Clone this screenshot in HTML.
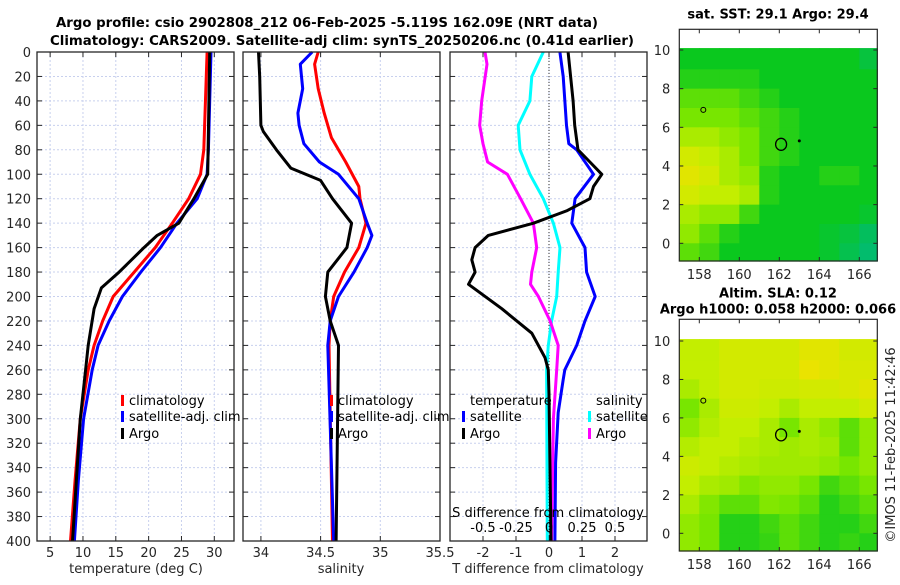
<!DOCTYPE html>
<html><head><meta charset="utf-8"><style>
body{margin:0;background:#fff;}
svg text{font-family:"DejaVu Sans","Liberation Sans",sans-serif;}
</style></head><body>
<svg id="chart" width="900" height="580" viewBox="0 0 900 580" xmlns="http://www.w3.org/2000/svg"></svg>
<script>
// ---- data ----
const depthsT = [0,80,100,120,140,160,180,200,220,240,260,300,350,400];
const tempClim = [28.9,28.4,27.9,26.1,23.6,21.0,17.8,14.6,13.0,11.7,10.8,9.6,8.8,8.1];
const tempSat = [29.5,29.1,28.9,27.4,24.3,21.8,18.8,16.0,14.0,12.3,11.4,10.1,9.3,8.7];
const depthsArgoT = [0,100,120,140,150,160,180,193,210,240,260,300,350,400];
const tempArgo = [29.3,29.0,26.9,24.6,21.3,19.3,15.5,12.8,11.7,10.8,10.4,9.6,9.0,8.4];

const depthsS = [0,10,30,50,70,90,110,120,140,160,180,200,220,240,400];
const salClim = [34.48,34.45,34.48,34.53,34.59,34.71,34.82,34.83,34.88,34.82,34.70,34.61,34.58,34.57,34.60];
const depthsSatS = [0,10,30,50,60,75,90,100,120,140,150,160,180,200,220,240,400];
const salSat = [34.43,34.33,34.35,34.31,34.32,34.36,34.49,34.65,34.82,34.89,34.93,34.89,34.78,34.65,34.58,34.56,34.61];
const depthsArgoS = [0,20,60,65,80,95,105,120,140,160,180,200,220,240,400];
const salArgo = [33.98,33.99,34.0,34.02,34.13,34.25,34.5,34.6,34.76,34.72,34.56,34.54,34.58,34.65,34.63];

const depthsDT = [0,40,60,80,90,100,110,120,130,140,150,160,170,180,190,210,230,250,260,280,400];
const dTArgo = [0.58,0.73,0.78,0.88,1.24,1.6,1.35,1.24,0.53,-0.47,-1.84,-2.24,-2.34,-2.24,-2.44,-1.43,-0.52,-0.12,-0.02,0.0,0.06];
const depthsDTs = [0,20,60,75,80,100,120,140,160,180,200,220,240,260,268,295,336,400];
const dTSat = [0.33,0.43,0.53,0.6,0.84,1.35,0.79,0.69,1.09,1.14,1.4,1.09,0.84,0.48,0.43,0.28,0.2,0.18];
const depthsDS = [0,10,40,60,75,90,100,120,140,160,180,190,200,220,240,260,300,400];
const dSArgo = [-0.485,-0.47,-0.51,-0.525,-0.5,-0.465,-0.315,-0.215,-0.118,-0.093,-0.13,-0.14,-0.08,0.008,0.07,0.058,0.033,0.02];
const depthsDSs = [0,20,40,60,80,100,120,140,160,180,200,220,240,260,400];
const dSSat = [-0.043,-0.13,-0.145,-0.233,-0.22,-0.145,-0.043,0.033,0.083,0.07,0.058,0.02,-0.005,-0.018,-0.013];

const depthTicks = [0,20,40,60,80,100,120,140,160,180,200,220,240,260,280,300,320,340,360,380,400];
const tempTicks = [5,10,15,20,25,30];
const salTicks = [34,34.5,35,35.5];
const dTTicks = [-2,-1,0,1,2];
const dTTickLabels = ["-2","-1","0","1","2"];
const dSTicks = [-0.5,-0.25,0,0.25,0.5];

const mapLons = [157,158,159,160,161,162,163,164,165,166];
const mapLats = [10,9,8,7,6,5,4,3,2,1,0];
const sstGrid = [
[.3,.3,.3,.3,.3,.3,.3,.3,.3,.2],
[.35,.35,.35,.35,.3,.3,.3,.3,.3,.3],
[.45,.45,.45,.4,.35,.3,.3,.3,.3,.3],
[.5,.5,.5,.45,.4,.35,.3,.3,.3,.3],
[.6,.6,.55,.5,.4,.35,.3,.3,.3,.3],
[.7,.65,.6,.5,.4,.35,.3,.3,.3,.3],
[.75,.7,.6,.55,.35,.3,.3,.35,.35,.3],
[.7,.65,.65,.6,.35,.3,.3,.3,.3,.3],
[.6,.55,.55,.4,.3,.3,.3,.3,.3,.25],
[.55,.45,.35,.3,.3,.3,.3,.25,.2,.1],
[.45,.4,.3,.3,.3,.3,.3,.25,.15,.05]];
const slaGrid = [
[.65,.65,.7,.7,.7,.7,.75,.75,.7,.7],
[.65,.65,.7,.7,.7,.7,.78,.75,.72,.72],
[.6,.65,.7,.7,.68,.68,.7,.7,.72,.75],
[.5,.6,.68,.68,.65,.6,.65,.65,.65,.7],
[.55,.62,.65,.65,.6,.5,.6,.55,.45,.55],
[.62,.65,.65,.62,.6,.58,.6,.58,.45,.55],
[.68,.65,.62,.6,.58,.58,.58,.55,.5,.55],
[.65,.6,.58,.52,.55,.55,.5,.4,.45,.5],
[.6,.52,.45,.45,.52,.5,.45,.35,.4,.45],
[.55,.5,.35,.35,.4,.45,.4,.35,.35,.4],
[.55,.5,.35,.35,.38,.45,.4,.35,.38,.35]];
const lonTicks = [158,160,162,164,166];
const latTicks = [0,2,4,6,8,10];
const argoLon = 162.09, argoLat = 5.12;

// ---- helpers ----
const NS="http://www.w3.org/2000/svg";
const svg=document.getElementById('chart');
function mk(tag,attrs,parent){const e=document.createElementNS(NS,tag);for(const k in attrs)e.setAttribute(k,attrs[k]);(parent||svg).appendChild(e);return e;}
function txt(s,x,y,opt,parent){const e=mk('text',Object.assign({x:x,y:y,'font-size':13,fill:'#262626','text-anchor':'middle'},opt||{}),parent);e.textContent=s;return e;}

const Y0=52, Y1=541, DMAX=400;
const yD=d=>Y0+(Y1-Y0)*d/DMAX;

function panel(name,x0,x1,xmin,xmax,ticks,labels,showY){
  const g=mk('g',{});
  
  
  const sx=v=>x0+(x1-x0)*(v-xmin)/(xmax-xmin);
  depthTicks.forEach(d=>{
    const l=mk('line',{x1:x0,x2:x1,y1:yD(d),y2:yD(d),stroke:'#c8d0ee','stroke-width':1,'stroke-dasharray':'2,2'},g);
    
    
    mk('line',{x1:x0,x2:x0+5,y1:yD(d),y2:yD(d),stroke:'#262626'},g);
    mk('line',{x1:x1-5,x2:x1,y1:yD(d),y2:yD(d),stroke:'#262626'},g);
    if(showY){const t=txt(String(d),x0-6,yD(d)+5,{'text-anchor':'end'},g);
      }
  });
  ticks.forEach((v,i)=>{
    const X=sx(v);
    mk('line',{x1:X,x2:X,y1:Y0,y2:Y1,stroke:'#c8d0ee','stroke-width':1,'stroke-dasharray':'2,2'},g);
    mk('line',{x1:X,x2:X,y1:Y1,y2:Y1-5,stroke:'#262626'},g);
    mk('line',{x1:X,x2:X,y1:Y0,y2:Y0+5,stroke:'#262626'},g);
    const t=txt(labels[i],X,557,{},g);
    
  });
  return {g,sx};
}
function line(p,xs,ds,color,name){
  const pts=xs.map((v,i)=>p.sx(v).toFixed(1)+','+yD(ds[i]).toFixed(1)).join(' ');
  const e=mk('polyline',{points:pts,fill:'none',stroke:color,'stroke-width':3,'stroke-linejoin':'round'},p.g);
  
  
}
function frame(p,x0,x1){mk('rect',{x:x0,y:Y0,width:x1-x0,height:Y1-Y0,fill:'none',stroke:'#262626','stroke-width':1.3},p.g);}
function legend(g,x,y,color,label){
  mk('rect',{x:x,y:y-10,width:3,height:11,fill:color},g);
  const t=txt(label,x+8,y,{'text-anchor':'start',fill:'#000'},g);
  
}

// titles
let t=txt('Argo profile: csio 2902808_212 06-Feb-2025 -5.119S 162.09E (NRT data)',327,27,{'font-weight':'bold',fill:'#000',textLength:542,lengthAdjust:'spacingAndGlyphs'});

t=txt('Climatology: CARS2009. Satellite-adj clim: synTS_20250206.nc (0.41d earlier)',342,45,{'font-weight':'bold',fill:'#000',textLength:584,lengthAdjust:'spacingAndGlyphs'});


// panel 1 temperature
const p1=panel('temperature-panel',37,234,3,33,tempTicks,tempTicks.map(String),true);
line(p1,tempClim,depthsT,'#ff0000','climatology-temp-line');
line(p1,tempSat,depthsT,'#0000ff','satellite-temp-line');
line(p1,tempArgo,depthsArgoT,'#000000','argo-temp-line');
frame(p1,37,234);
legend(p1.g,121,405,'#ff0000','climatology');
legend(p1.g,121,421,'#0000ff','satellite-adj. clim');
legend(p1.g,121,438,'#000000','Argo');
t=txt('temperature (deg C)',136,573);

// panel 2 salinity
const p2=panel('salinity-panel',243,440,33.85,35.5,salTicks,salTicks.map(String),false);
line(p2,salClim,depthsS,'#ff0000','climatology-sal-line');
line(p2,salSat,depthsSatS,'#0000ff','satellite-sal-line');
line(p2,salArgo,depthsArgoS,'#000000','argo-sal-line');
frame(p2,243,440);
legend(p2.g,330,405,'#ff0000','climatology');
legend(p2.g,330,421,'#0000ff','satellite-adj. clim');
legend(p2.g,330,438,'#000000','Argo');
t=txt('salinity',341,573);

// panel 3 differences
const p3=panel('difference-panel',450,647,-3,2.97,dTTicks,dTTickLabels,false);
const sxS=v=>p3.sx(v*4);
mk('line',{x1:p3.sx(0),x2:p3.sx(0),y1:Y0,y2:Y1,stroke:'#333','stroke-width':1,'stroke-dasharray':'1,2'},p3.g);
line(p3,dSSat.map(v=>v*4),depthsDSs,'#00ffff','satellite-sal-diff-line');
line(p3,dSArgo.map(v=>v*4),depthsDS,'#ff00ff','argo-sal-diff-line');
line(p3,dTSat,depthsDTs,'#0000ff','satellite-temp-diff-line');
line(p3,dTArgo,depthsDT,'#000000','argo-temp-diff-line');
frame(p3,450,647);
t=txt('temperature',470,405,{'text-anchor':'start',fill:'#000'},p3.g);
t=txt('salinity',596,405,{'text-anchor':'start',fill:'#000'},p3.g);
legend(p3.g,462,421,'#0000ff','satellite');
legend(p3.g,462,438,'#000000','Argo');
legend(p3.g,588,421,'#00ffff','satellite');
legend(p3.g,588,438,'#ff00ff','Argo');
t=txt('S difference from climatology',548,517,{fill:'#000'},p3.g);
dSTicks.forEach(v=>{const e=txt(String(v),sxS(v),532,{fill:'#000'},p3.g);});
t=txt('T difference from climatology',548,573);

// maps
const stops=[[0,[0,185,125]],[0.3,[10,200,30]],[0.5,[120,230,0]],[0.65,[195,238,0]],[0.8,[240,225,0]]];
function cmap(v){for(let i=1;i<stops.length;i++){if(v<=stops[i][0]){const a=stops[i-1],b=stops[i];const f=(v-a[0])/(b[0]-a[0]);const c=a[1].map((x,k)=>Math.round(x+(b[1][k]-x)*f));return 'rgb('+c.join(',')+')';}}return 'rgb(240,225,0)';}
function map(name,grid,bx0,bx1,by0,by1,y10,y0,title1,title2){
  const g=mk('g',{});
  
  
  const sx=lon=>bx0+(bx1-bx0)*(lon-157)/(166.9-157);
  const sy=lat=>y0+(y10-y0)*lat/10;
  const topLat=10.1;
  const cg=mk('g',{},g);
  grid.forEach((row,r)=>row.forEach((v,c)=>{
    const la=mapLats[r], lo=mapLons[c];
    const yt=r===0?sy(topLat):sy(la), yb=r===grid.length-1?by1:sy(la-1);
    const xl=sx(lo), xr=Math.min(sx(lo+1),bx1);
    const cell=mk('rect',{x:xl,y:yt,width:xr-xl+0.6,height:yb-yt+0.6,fill:cmap(v)},cg);
    
    
  }));
  mk('rect',{x:bx0,y:by0,width:bx1-bx0,height:by1-by0,fill:'none',stroke:'#262626','stroke-width':1.2},g);
  lonTicks.forEach(l=>{mk('line',{x1:sx(l),x2:sx(l),y1:by1,y2:by1-4,stroke:'#262626'},g);mk('line',{x1:sx(l),x2:sx(l),y1:by0,y2:by0+4,stroke:'#262626'},g);
    const e=txt(String(l),sx(l),by1+18,{},g);});
  latTicks.forEach(l=>{mk('line',{x1:bx0,x2:bx0+4,y1:sy(l),y2:sy(l),stroke:'#262626'},g);mk('line',{x1:bx1,x2:bx1-4,y1:sy(l),y2:sy(l),stroke:'#262626'},g);
    const e=txt(String(l),bx0-9,sy(l)+5,{'text-anchor':'end'},g);});
  const m=mk('ellipse',{cx:sx(argoLon),cy:sy(argoLat),rx:5.5,ry:6,fill:'none',stroke:'#000','stroke-width':1.3},g);
  
  mk('circle',{cx:sx(163),cy:sy(5.3),r:1.5,fill:'#000'},g);
  mk('circle',{cx:sx(158.2),cy:sy(6.9),r:2.5,fill:'none',stroke:'#000','stroke-width':1},g);
  if(title1){const e=txt(title1,778,title2?by0-22:by0-11,{'font-weight':'bold',fill:'#000'},g);}
  if(title2){const e=txt(title2,778,by0-6,{'font-weight':'bold',fill:'#000'},g);}
}
map('sst-map',sstGrid,679.3,877.3,29.3,261,50,243.3,'sat. SST: 29.1 Argo: 29.4',null);
map('sla-map',slaGrid,679.3,877.3,319.3,551,341,533.3,'Altim. SLA: 0.12','Argo h1000: 0.058 h2000: 0.066');
t=txt('©IMOS 11-Feb-2025 11:42:46',0,0,{transform:'translate(895,445) rotate(-90)'});

</script>
</body></html>
